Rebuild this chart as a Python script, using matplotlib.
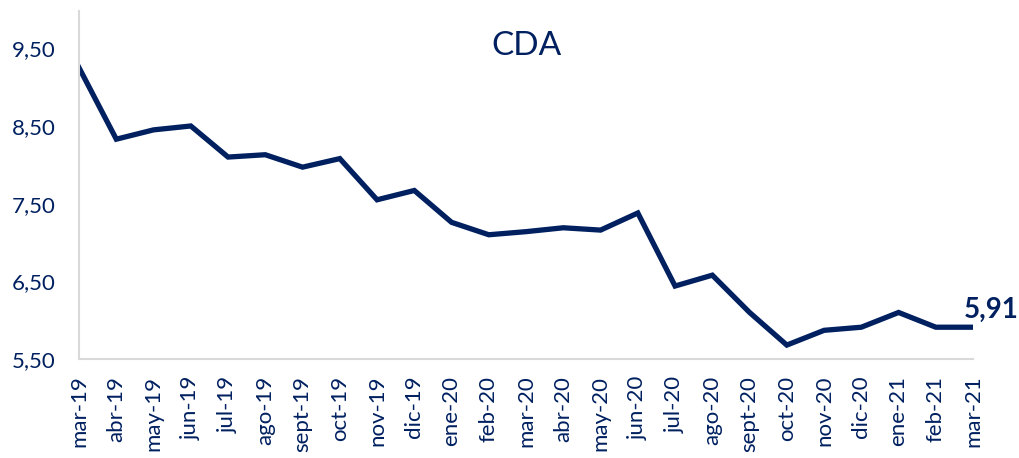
import matplotlib.pyplot as plt

months = ['mar-19', 'abr-19', 'may-19', 'jun-19', 'jul-19', 'ago-19', 'sept-19',
          'oct-19', 'nov-19', 'dic-19', 'ene-20', 'feb-20', 'mar-20', 'abr-20',
          'may-20', 'jun-20', 'jul-20', 'ago-20', 'sept-20', 'oct-20', 'nov-20',
          'dic-20', 'ene-21', 'feb-21', 'mar-21']
cda = [9.25, 8.33, 8.45, 8.50, 8.10, 8.13, 7.97, 8.08, 7.55, 7.67, 7.26, 7.10,
       7.14, 7.19, 7.16, 7.38, 6.44, 6.58, 6.10, 5.68, 5.87, 5.91, 6.10, 5.91, 5.91]
yticks = [5.5, 6.5, 7.5, 8.5, 9.5]

navy = '#002060'
plt.rcParams['font.family'] = ['Lato', 'DejaVu Sans']

fig = plt.figure(figsize=(10.2, 4.58), dpi=100)
ax = fig.add_axes([0.0775, 0.216, 0.8765, 0.76])

x = list(range(len(months)))
ax.plot(x, cda, color=navy, lw=3.8, solid_joinstyle='miter')

ax.set_xlim(0, len(months) - 1)
ax.set_ylim(5.5, 9.98)
ax.set_yticks(yticks)
ax.set_yticklabels([f'{v:.2f}'.replace('.', ',') for v in yticks])
ax.set_xticks(x)
ax.set_xticklabels(months, rotation=90, va='top')

ax.tick_params(axis='both', length=0, labelcolor=navy, labelsize=16)
ax.tick_params(axis='y', pad=17)
ax.tick_params(axis='x', pad=12)

for s in ['top', 'right']:
    ax.spines[s].set_visible(False)
for s in ['left', 'bottom']:
    ax.spines[s].set_color('#d9d9d9')
    ax.spines[s].set_linewidth(1.5)

ax.text(0.5, 0.9, 'CDA', transform=ax.transAxes, ha='center', va='center',
        fontsize=24, color=navy)

last = cda[-1]
ax.annotate(f'{last:.2f}'.replace('.', ','), (x[-1], last), xytext=(-7, 3),
            textcoords='offset points', ha='left', va='bottom',
            fontsize=20, fontweight='bold', color=navy, annotation_clip=False)

fig.savefig('out.png', dpi=100)
